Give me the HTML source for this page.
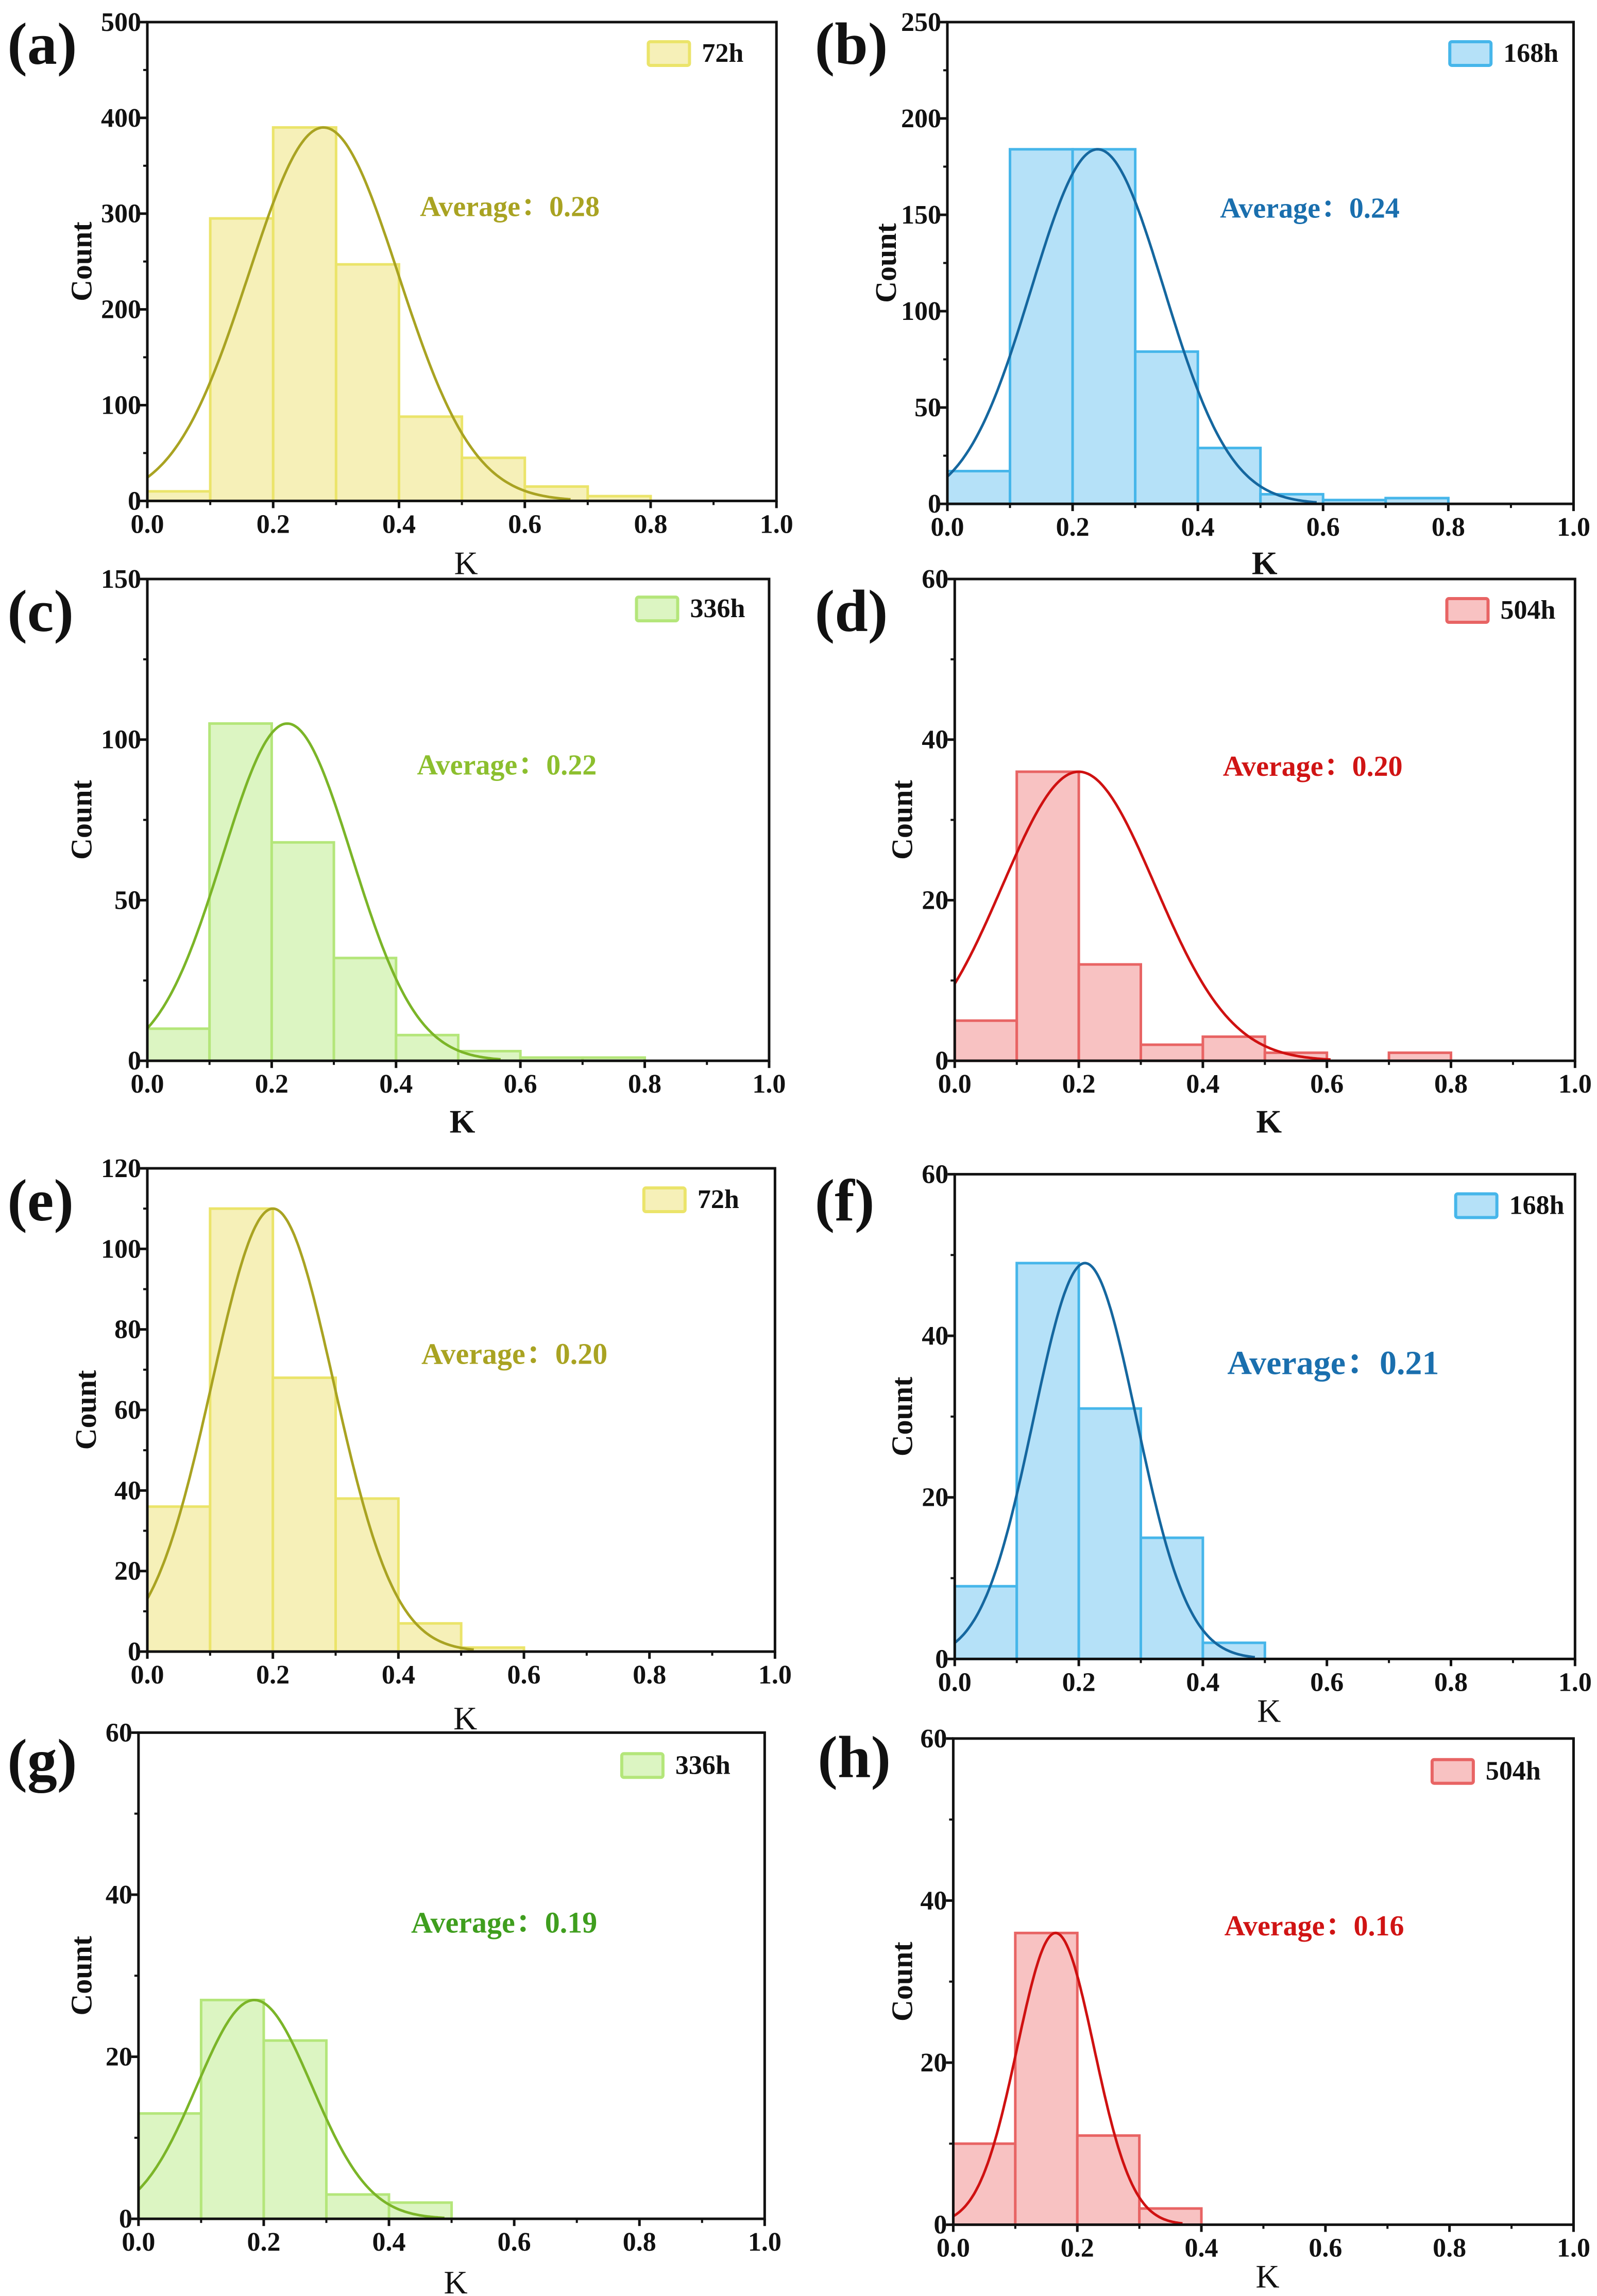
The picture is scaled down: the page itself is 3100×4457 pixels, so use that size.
<!DOCTYPE html>
<html><head><meta charset="utf-8">
<style>
html,body{margin:0;padding:0;background:#fff;}
svg{display:block;}
text{font-family:"Liberation Serif","Times New Roman","Noto Serif CJK SC",serif;}
</style></head>
<body>
<svg id="fig" width="3100" height="4457" viewBox="0 0 3100 4457" xmlns="http://www.w3.org/2000/svg"></svg>
<script>
// ---- data ----
const binEdges = [0,0.1,0.2,0.3,0.4,0.5,0.6,0.7,0.8];
const countsA = [10,295,390,247,88,45,15,5];
const countsB = [17,184,184,79,29,5,2,3];
const countsC = [10,105,68,32,8,3,1,1];
const countsD = [5,36,12,2,3,1,0,1];
const countsE = [36,110,68,38,7,1];
const countsF = [9,49,31,15,2];
const countsG = [13,27,22,3,2];
const countsH = [10,36,11,2];
const meansArr = [0.28,0.24,0.225,0.20,0.20,0.21,0.185,0.165];
const sigmasArr = [0.119,0.106,0.104,0.123,0.097,0.083,0.092,0.062];
const peaksArr = [390,184,105,36,110,49,27,36];
const averageLabels = ["0.28","0.24","0.22","0.20","0.20","0.21","0.19","0.16"];
const legendLabels = ["72h","168h","336h","504h","72h","168h","336h","504h"];
const panelLetters = ["(a)","(b)","(c)","(d)","(e)","(f)","(g)","(h)"];
const yMaxArr = [500,250,150,60,120,60,60,60];
const yStepArr = [100,50,50,20,20,20,20,20];
const xTicks = [0,0.2,0.4,0.6,0.8,1.0];
const xTickLabels = ["0.0","0.2","0.4","0.6","0.8","1.0"];
const countsAll = [countsA,countsB,countsC,countsD,countsE,countsF,countsG,countsH];

// ---- layout / style (not data) ----
const S = 2.86;
const boxes = [
 [100,527,15,340],[643,1068,15,342],[100,522,393,720],[648,1069,393,720],
 [100,526,793,1121],[648,1069,797,1126],[94,519,1176,1506],[647,1068,1180,1510]];
const themes = {
 y:{fill:"#f6f0b8",edge:"#ebe46a",curve:"#a9a322",text:"#a9a322"},
 b:{fill:"#b5e1f8",edge:"#46b6ea",curve:"#15679f",text:"#1a6fae"},
 g:{fill:"#dcf5c2",edge:"#b4e67a",curve:"#7bb528",text:"#8cbf2e"},
 r:{fill:"#f8c2c2",edge:"#e86464",curve:"#cf1111",text:"#d01414"}};
const panelTheme = ["y","b","g","r","y","b","g","r"];
const avgTextColor = [null,null,"#8cbf2e",null,null,null,"#3f9e1e",null];
const avgPos = [[285,140],[828,141],[283,519],[830,520],[286,919],[833,926],[279,1305],[831,1307]];
const avgSize = [56,56,56,56,58,66,58,56];
const legPos = [[440,36],[984,36],[432,413],[982,414],[437,814],[988,818],[422,1198],[972,1202]];
const countX = [55,601,55,612,58,612,55,612];
const kBold = [false,true,true,true,false,false,false,false];
const kY = [382,382,761,761,1166,1161,1549,1545];
const letterPos = [[5,30],[553,30],[5,415],[553,415],[5,815],[553,815],[5,1195],[555,1193]];

const NS="http://www.w3.org/2000/svg";
const svg=document.getElementById('fig');
function el(tag,attrs,parent){const e=document.createElementNS(NS,tag);for(const k in attrs)e.setAttribute(k,attrs[k]);(parent||svg).appendChild(e);return e;}

for(let p=0;p<8;p++){
  const [bx0,bx1,byT,byB]=boxes[p];
  const X0=bx0*S,X1=bx1*S,YT=byT*S,YB=byB*S;
  const th=themes[panelTheme[p]];
  const yMax=yMaxArr[p];
  const xs=v=>X0+(X1-X0)*v;
  const ys=v=>YB-(YB-YT)*v/yMax;
  const g=el('g',{});
  
  

  const counts=countsAll[p];
  for(let i=0;i<counts.length;i++){
    if(counts[i]<=0)continue;
    const r=el('rect',{x:xs(binEdges[i]),y:ys(counts[i]),width:xs(binEdges[i+1])-xs(binEdges[i]),height:YB-ys(counts[i]),fill:th.fill,stroke:th.edge,'stroke-width':5},g);
    
    
  }
  const mu=meansArr[p],sg=sigmasArr[p],pk=peaksArr[p];
  const xEnd=Math.min(1,mu+3.3*sg);
  let d='';
  for(let k=0;k<=200;k++){const v=xEnd*k/200;const c=pk*Math.exp(-((v-mu)**2)/(2*sg*sg));d+=(k?'L':'M')+xs(v).toFixed(1)+','+ys(c).toFixed(1);}
  const cv=el('path',{d:d,fill:'none',stroke:th.curve,'stroke-width':5},g);
  
  

  const fr=el('rect',{x:X0,y:YT,width:X1-X0,height:YB-YT,fill:'none',stroke:'#111','stroke-width':5},g);
  
  

  const step=yStepArr[p];
  for(let v=0;v<=yMax+1e-9;v+=step){
    el('line',{x1:X0-14,x2:X0,y1:ys(v),y2:ys(v),stroke:'#111','stroke-width':5},g);
    if(v+step/2<yMax) el('line',{x1:X0-8,x2:X0,y1:ys(v+step/2),y2:ys(v+step/2),stroke:'#111','stroke-width':4},g);
    const t=el('text',{x:X0-12,y:ys(v)+17,'text-anchor':'end','font-size':52,'font-weight':'bold',fill:'#111'},g);
    t.textContent=v;
    
    
  }
  for(let i=0;i<xTicks.length;i++){
    const x=xs(xTicks[i]);
    el('line',{x1:x,x2:x,y1:YB,y2:YB+14,stroke:'#111','stroke-width':5},g);
    if(i<xTicks.length-1){const xm=xs(xTicks[i]+0.1);el('line',{x1:xm,x2:xm,y1:YB,y2:YB+8,stroke:'#111','stroke-width':4},g);}
    const t=el('text',{x:x,y:YB+62,'text-anchor':'middle','font-size':52,'font-weight':'bold',fill:'#111'},g);
    t.textContent=xTickLabels[i];
    
    
  }
  const cy=(YT+YB)/2;
  const ct=el('text',{x:countX[p]*S,y:cy,'text-anchor':'middle','font-size':58,'font-weight':'bold',fill:'#111',transform:`rotate(-90 ${countX[p]*S} ${cy})`,dy:20},g);
  ct.textContent='Count';
  
  
  const kt=el('text',{x:(X0+X1)/2+8,y:kY[p]*S+22,'text-anchor':'middle','font-size':64,'font-weight':kBold[p]?'bold':'normal',fill:'#111'},g);
  kt.textContent='K';
  
  

  const lt=el('text',{x:letterPos[p][0]*S,y:letterPos[p][1]*S+38,'font-size':116,'font-weight':'bold',fill:'#111'},g);
  lt.textContent=panelLetters[p];
  
  

  const lx=legPos[p][0]*S,ly=legPos[p][1]*S;
  const lb=el('rect',{x:lx,y:ly-22,width:80,height:46,fill:th.fill,stroke:th.edge,'stroke-width':6,rx:4},g);
  
  
  const ltx=el('text',{x:lx+104,y:ly+17,'font-size':52,'font-weight':'bold',fill:'#111'},g);
  ltx.textContent=legendLabels[p];
  
  

  const at=el('text',{x:avgPos[p][0]*S,y:avgPos[p][1]*S+19,'font-size':avgSize[p],'font-weight':'bold',fill:avgTextColor[p]||th.text},g);
  at.textContent='Average：'+averageLabels[p];
  
  
}
</script>
</body></html>
